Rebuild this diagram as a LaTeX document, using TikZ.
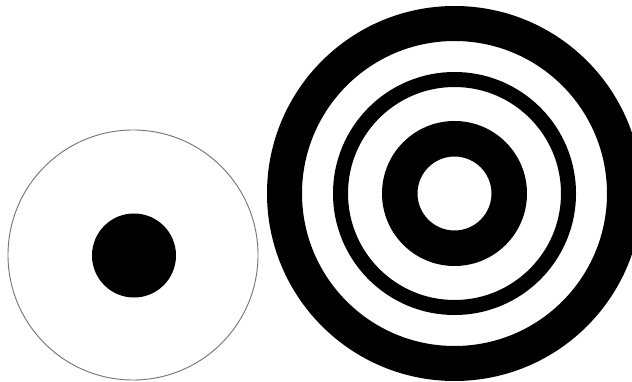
\documentclass[tikz,border=0pt]{standalone}
\begin{document}
\begin{tikzpicture}[x=1pt,y=-1pt,
  ring/.style={fill=black,even odd rule},
  outline/.style={draw=black!55,line width=0.9pt}]
\clip (0,0) rectangle (632,382);
\fill[white] (0,0) rectangle (632,382);
% left circle
\draw[outline] (133,255) circle (125);
\fill[black] (134,255.5) circle (42);
% target
\fill[ring] (454.5,193.5) circle (187.5) (454.5,193.5) circle (152.5);
\fill[ring] (454.5,193.5) circle (121.5) (454.5,193.5) circle (106.5);
\fill[ring] (454.5,193.5) circle (72.5) (454.5,193.5) circle (37);
\end{tikzpicture}
\end{document}
